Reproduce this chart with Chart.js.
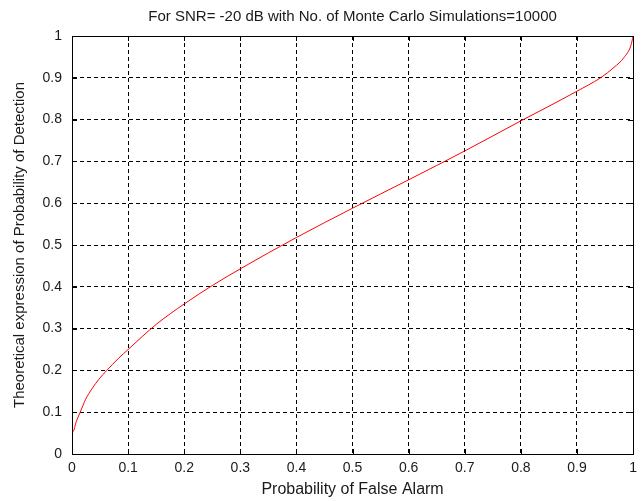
<!DOCTYPE html>
<html>
<head>
<meta charset="utf-8">
<title>ROC curve</title>
<script src="https://cdn.jsdelivr.net/npm/chart.js@4/dist/chart.umd.min.js"></script>
<style>
  html, body { margin: 0; padding: 0; background: #fff; }
  canvas { display: block; }
</style>
</head>
<body>
<canvas id="rocChart" width="643" height="501"></canvas>
<script>
// probability of false alarm (x) and theoretical probability of detection (y)
var pfa = [0, 0.0003, 0.0025, 0.007, 0.0146, 0.024, 0.036, 0.048, 0.062, 0.083, 0.1, 0.15, 0.2, 0.25, 0.3, 0.4, 0.5, 0.6, 0.7, 0.8, 0.85, 0.9, 0.942, 0.966, 0.984, 0.996, 1];
var pd  = [0, 0.042, 0.055, 0.075, 0.1, 0.13, 0.157, 0.179, 0.2, 0.229, 0.25, 0.31, 0.359, 0.403, 0.443, 0.518, 0.588, 0.656, 0.725, 0.797, 0.832, 0.868, 0.9, 0.925, 0.949, 0.977, 1];

var tickStep = 0.1;
var axisMin = 0, axisMax = 1;

var points = pfa.map(function (x, i) { return { x: x, y: pd[i] }; });

var font = "'Liberation Sans', Arial, sans-serif";
var textColor = '#1a1a1a';

// tick text like 0, 0.1 ... 1 (no trailing zeros)
function tickText(value) {
	return String(parseFloat(value.toFixed(2)));
}

// solid box around the axes plus small inward tick marks (matlab style)
var axesBox = {
	id: 'axesBox',
	afterDraw: function (chart) {
		var ctx = chart.ctx;
		var a = chart.chartArea;
		var len = 5;
		ctx.save();
		ctx.strokeStyle = '#000';
		ctx.lineWidth = 1;
		ctx.setLineDash([]);
		ctx.strokeRect(Math.round(a.left) + 0.5, Math.round(a.top) + 0.5,
			Math.round(a.right - a.left), Math.round(a.bottom - a.top));
		ctx.beginPath();
		chart.scales.x.ticks.forEach(function (t) {
			var px = Math.round(chart.scales.x.getPixelForValue(t.value)) + 0.5;
			ctx.moveTo(px, a.bottom); ctx.lineTo(px, a.bottom - len);
			ctx.moveTo(px, a.top); ctx.lineTo(px, a.top + len);
		});
		chart.scales.y.ticks.forEach(function (t) {
			var py = Math.round(chart.scales.y.getPixelForValue(t.value)) + 0.5;
			ctx.moveTo(a.left, py); ctx.lineTo(a.left + len, py);
			ctx.moveTo(a.right, py); ctx.lineTo(a.right - len, py);
		});
		ctx.stroke();
		ctx.restore();
	}
};

var context = document.getElementById('rocChart').getContext('2d');

var myChart = new Chart(context, {

	type: 'line',

	data: {
		datasets: [{
			label: 'Pd',
			data: points,
			borderColor: '#ff0000',
			borderWidth: 1,
			pointRadius: 0,
			fill: false,
			cubicInterpolationMode: 'monotone'
		}]
	},

	options: {
		responsive: false,
		animation: false,
		events: [],
		layout: {
			padding: { top: 0, right: 7, bottom: 0, left: 0 }
		},
		plugins: {
			legend: { display: false },
			tooltip: { enabled: false },
			title: {
				display: true,
				fullSize: false,
				text: 'For SNR= -20 dB with No. of Monte Carlo Simulations=10000',
				color: textColor,
				font: { family: font, size: 15, weight: 'normal' },
				padding: { top: 8, bottom: 10 }
			}
		},
		scales: {
			x: {
				type: 'linear',
				min: axisMin,
				max: axisMax,
				ticks: {
					stepSize: tickStep,
					color: textColor,
					font: { family: font, size: 14 },
					padding: 6,
					maxRotation: 0,
					callback: tickText
				},
				grid: {
					color: '#000',
					lineWidth: 1,
					drawTicks: false
				},
				border: {
					display: true,
					color: '#000',
					width: 1,
					dash: [4, 3]
				},
				title: {
					display: true,
					text: 'Probability of False Alarm',
					color: textColor,
					font: { family: font, size: 16 },
					padding: { top: 0, bottom: 2 }
				},
				afterFit: function (scale) { scale.height = 47; }
			},
			y: {
				type: 'linear',
				min: axisMin,
				max: axisMax,
				ticks: {
					stepSize: tickStep,
					color: textColor,
					font: { family: font, size: 14 },
					padding: 10,
					callback: tickText
				},
				grid: {
					color: '#000',
					lineWidth: 1,
					drawTicks: false
				},
				border: {
					display: true,
					color: '#000',
					width: 1,
					dash: [4, 3]
				},
				title: {
					display: true,
					text: 'Theoretical expression of Probability of Detection',
					color: textColor,
					font: { family: font, size: 15 },
					padding: { top: 11, bottom: 0 }
				},
				afterFit: function (scale) { scale.width = 72; }
			}
		}
	},

	plugins: [axesBox]
});
</script>
</body>
</html>
